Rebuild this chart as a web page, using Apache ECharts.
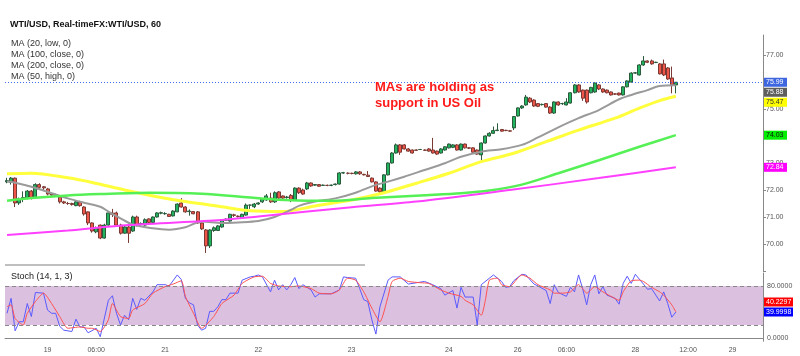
<!DOCTYPE html>
<html><head><meta charset="utf-8">
<script src="https://cdn.jsdelivr.net/npm/echarts@6/dist/echarts.min.js"></script>
<style>html,body{margin:0;padding:0;background:#fff}#c{width:800px;height:356px}</style>
</head><body><div id="c"></div>
<script>
// ---- data ----
// hourly candles: [open, close, low, high]
const ohlc = [
[72.30,72.35,72.25,72.45],[72.28,72.44,72.20,72.48],[72.44,71.52,71.37,72.46],[71.52,71.67,71.45,71.72],[71.65,71.72,71.55,71.95],
[71.70,71.96,71.65,72.00],[71.96,71.71,71.65,72.00],[71.71,72.20,71.68,72.25],[72.20,72.10,72.05,72.25],[72.12,72.08,72.00,72.15],
[72.04,71.85,71.80,72.08],[71.85,71.81,71.78,71.88],[71.80,71.82,71.76,71.86],[71.75,71.56,71.50,71.78],[71.56,71.52,71.48,71.60],
[71.50,71.50,71.45,71.56],[71.50,71.46,71.42,71.53],[71.42,71.56,71.40,71.60],[71.56,71.42,71.38,71.60],[71.37,71.11,71.05,71.40],
[71.19,70.78,70.70,71.20],[70.78,70.48,70.42,70.80],[70.45,70.60,70.40,70.65],[70.70,70.22,70.18,70.72],[70.22,70.70,70.20,70.75],
[70.70,71.15,70.68,71.20],[71.15,71.10,71.00,71.30],[71.15,70.70,70.65,71.20],[70.70,70.40,70.35,70.75],[70.40,70.63,70.38,70.68],
[70.63,70.40,70.04,70.66],[70.48,71.00,70.45,71.05],[71.00,70.70,70.65,71.05],[70.72,70.76,70.68,70.80],[70.70,70.90,70.68,70.95],
[70.93,70.80,70.75,70.95],[70.80,71.00,70.78,71.02],[71.00,71.15,70.98,71.18],[71.14,71.16,71.10,71.20],[71.12,71.13,71.08,71.18],
[71.10,71.02,71.00,71.12],[71.04,71.22,71.02,71.25],[71.19,71.48,71.18,71.50],[71.52,71.37,71.35,71.70],[71.37,71.19,71.16,71.40],
[71.20,71.22,71.05,71.28],[71.20,71.12,71.10,71.22],[71.19,70.78,70.75,71.22],[70.78,70.56,70.52,70.80],[70.52,69.93,69.67,70.55],
[69.93,70.52,69.85,70.55],[70.50,70.60,70.45,70.65],[70.50,70.67,70.48,70.70],[70.63,70.89,70.60,70.92],[70.88,70.92,70.85,70.95],
[70.85,71.10,70.83,71.12],[71.08,71.06,71.00,71.12],[71.03,71.02,70.98,71.06],[70.96,71.10,70.94,71.12],[71.07,71.44,71.05,71.50],
[71.44,71.44,71.30,71.46],[71.38,71.48,71.33,71.52],[71.48,71.52,71.45,71.55],[71.56,71.67,71.52,71.70],[71.63,71.78,71.60,71.85],
[71.70,71.56,71.52,71.90],[71.56,71.90,71.52,71.95],[71.93,71.70,71.65,71.96],[71.78,71.70,71.66,71.80],[71.72,71.74,71.68,71.78],
[71.80,71.63,71.55,71.85],[71.63,72.07,71.60,72.10],[72.07,71.90,71.85,72.10],[72.00,71.85,71.82,72.05],[72.04,72.26,72.00,72.30],
[72.26,72.15,72.12,72.28],[72.18,72.20,72.15,72.22],[72.20,72.14,72.12,72.22],[72.17,72.18,72.15,72.20],[72.17,72.17,72.14,72.20],
[72.17,72.18,72.14,72.20],[72.20,72.22,72.17,72.24],[72.22,72.63,72.20,72.66],[72.63,72.64,72.60,72.67],[72.62,72.62,72.58,72.65],
[72.62,72.61,72.58,72.64],[72.60,72.67,72.57,72.70],[72.67,72.60,72.56,72.70],[72.58,72.56,72.54,72.60],[72.55,72.50,72.48,72.70],
[72.44,72.30,72.28,72.46],[72.30,71.96,71.94,72.32],[72.07,71.93,71.88,72.10],[71.93,72.56,71.90,72.58],[72.56,73.00,72.54,73.02],
[73.00,73.37,72.98,73.40],[73.37,73.67,73.35,73.72],[73.67,73.40,73.30,73.70],[73.67,73.52,73.50,73.70],[73.52,73.44,73.42,73.55],
[73.48,73.37,73.35,73.50],[73.48,73.47,73.45,73.50],[73.50,73.50,73.48,73.52],[73.48,73.47,73.45,73.50],[73.52,73.44,73.42,73.55],
[73.48,73.37,73.35,73.93],[73.44,73.33,73.30,73.46],[73.37,73.52,73.35,73.55],[73.48,73.60,73.46,73.62],[73.56,73.70,73.54,73.72],
[73.58,73.67,73.55,73.70],[73.67,73.48,73.46,73.70],[73.48,73.70,73.46,73.72],[73.70,73.56,73.54,73.72],[73.56,73.55,73.52,73.58],
[73.56,73.40,73.38,73.58],[73.48,73.33,73.30,73.50],[73.30,73.74,73.02,73.76],[73.74,74.00,73.72,74.02],[74.00,74.10,73.98,74.14],
[74.10,74.20,74.08,74.35],[74.20,74.22,74.18,74.47],[74.24,74.18,74.16,74.26],[74.21,74.20,74.18,74.23],[74.19,74.18,74.16,74.21],
[74.30,74.72,74.22,74.74],[74.74,75.04,74.72,75.06],[75.04,75.11,75.00,75.14],[75.15,75.44,75.12,75.52],[75.40,75.26,75.22,75.44],
[75.33,75.11,75.08,75.36],[75.20,75.10,75.07,75.22],[75.16,75.17,75.13,75.20],[75.20,75.07,75.05,75.22],[75.07,74.85,74.82,75.10],
[74.85,75.26,74.82,75.28],[75.26,75.15,75.12,75.28],[75.20,75.20,75.15,75.23],[75.15,75.26,75.13,75.40],[75.22,75.60,75.20,75.62],
[75.60,75.89,75.58,75.92],[75.89,75.63,75.60,75.92],[75.70,75.40,75.30,75.72],[75.70,75.26,75.20,75.72],[75.60,75.80,75.58,75.82],
[75.63,75.96,75.60,75.98],[75.89,75.74,75.70,75.92],[75.74,75.63,75.60,75.76],[75.70,75.60,75.58,75.72],[75.63,75.52,75.50,75.65],
[75.56,75.55,75.52,75.58],[75.59,75.52,75.50,75.60],[75.52,75.82,75.50,75.84],[75.82,76.04,75.80,76.06],[76.00,76.33,75.98,76.36],
[76.33,76.34,76.30,76.37],[76.26,76.63,76.24,76.66],[76.63,76.78,76.60,76.96],[76.78,76.73,76.70,76.80],[76.78,76.67,76.64,76.83],
[76.72,76.73,76.70,76.75],[76.67,76.30,76.28,76.70],[76.67,76.26,76.22,76.83],[76.52,76.11,76.08,76.55],[76.15,75.89,75.58,76.57],
[75.89,75.99,75.58,76.00]
];
const lastPrice = 75.99;

// moving averages, read at sampled candles: [candle index, value]
const ma20Low = [[0,72.32],[2,72.27],[6,72.12],[11,71.88],[15,71.69],[19,71.53],[23,71.38],[25,71.2],[28,70.95],[31,70.72],[36,70.58],[40,70.53],[44,70.62],[48,70.83],[53,70.78],[57,70.8],[62,70.85],[66,71.0],[70,71.26],[72,71.41],[76,71.57],[81,71.69],[86,71.9],[91,72.19],[94,72.31],[98,72.49],[103,72.74],[108,72.99],[112,73.23],[117,73.42],[122,73.51],[127,73.67],[131,73.95],[136,74.32],[141,74.66],[146,74.96],[151,75.36],[154,75.52],[158,75.7],[161,75.85],[165,75.88]];
const ma50High = [[0,72.6],[6,72.62],[15,72.45],[21,72.28],[29,72.0],[36,71.78],[44,71.57],[53,71.38],[60,71.23],[68,71.2],[76,71.41],[85,71.63],[93,71.9],[101,72.25],[109,72.62],[117,73.05],[125,73.36],[133,73.79],[141,74.22],[150,74.66],[156,75.03],[161,75.31],[165,75.47]];
const ma100Close = [[0,71.6],[6,71.7],[15,71.8],[23,71.85],[35,71.9],[48,71.86],[60,71.72],[70,71.62],[80,71.6],[90,71.7],[102,71.8],[112,71.88],[119,71.98],[127,72.2],[136,72.62],[146,73.1],[156,73.6],[165,74.03]];
const ma200Close = [[0,70.33],[15,70.5],[30,70.7],[53,70.89],[62,71.02],[85,71.36],[101,71.57],[124,72.0],[146,72.44],[165,72.84]];

// stochastic (14,1,3): [candle index, value]
const stochK = [[0,38],[1,61],[2,11],[3,25],[4,25],[5,53],[6,33],[7,70],[9,69],[10,43],[11,38],[12,38],[13,18],[14,12],[16,10],[17,29],[18,17],[19,17],[20,8],[22,15],[23,2],[25,58],[26,65],[27,38],[28,20],[29,35],[30,28],[31,61],[32,44],[33,61],[34,58],[36,71],[37,82],[39,82],[40,80],[42,97],[43,90],[44,61],[45,54],[46,51],[47,20],[48,12],[49,15],[50,41],[51,41],[52,48],[53,59],[54,59],[55,69],[56,69],[57,69],[58,89],[60,94],[61,95],[62,97],[63,94],[65,71],[66,89],[67,74],[68,82],[69,74],[70,82],[71,93],[72,76],[73,82],[75,74],[76,63],[77,68],[78,68],[80,68],[82,74],[83,94],[84,93],[86,92],[87,76],[88,59],[89,56],[90,28],[91,6],[92,48],[94,89],[95,94],[96,94],[97,94],[99,83],[101,85],[103,87],[105,82],[107,76],[108,66],[110,73],[111,46],[112,78],[113,63],[115,63],[116,20],[117,82],[119,92],[120,97],[122,87],[123,78],[124,79],[125,88],[127,98],[128,97],[130,83],[131,80],[133,73],[134,53],[135,82],[136,70],[138,64],[139,78],[140,71],[141,97],[142,76],[143,51],[144,82],[145,97],[146,68],[147,79],[148,66],[150,61],[151,52],[152,84],[153,95],[154,84],[155,98],[157,83],[158,75],[159,76],[161,57],[162,71],[163,53],[164,32],[165,39.9998]];
const stochD = [[0,48],[1,51],[2,30],[4,20],[5,38],[7,56],[9,69],[11,53],[13,33],[15,15],[18,17],[20,15],[21,15],[23,10],[25,28],[26,53],[28,33],[30,30],[31,43],[34,53],[36,69],[39,79],[41,83],[43,88],[44,64],[46,38],[48,15],[51,33],[53,53],[56,66],[58,84],[61,94],[63,95],[65,84],[67,80],[70,79],[72,80],[75,76],[77,69],[80,68],[82,74],[84,92],[86,89],[88,71],[90,46],[92,25],[94,64],[95,87],[97,92],[99,87],[102,85],[104,84],[107,74],[109,69],[112,64],[113,58],[115,51],[117,35],[118,58],[119,89],[121,92],[122,82],[124,79],[126,92],[127,97],[129,92],[131,82],[134,74],[135,69],[137,69],[139,71],[141,82],[142,76],[143,69],[145,79],[147,71],[149,64],[151,58],[152,71],[154,88],[156,89],[157,87],[159,78],[161,71],[162,66],[164,51],[165,40.2297]];

// time axis: slots (candles + empty future), tick labels at slots
const slotCount = 187;
const tickIdx  = [10, 22, 39, 62, 85, 109, 126, 138, 155, 168, 179];
const tickText = ['19','06:00','21','22','23','24','26','06:00','28','12:00','29'];
const maNames = ['MA (20, low, 0)','MA (100, close, 0)','MA (200, close, 0)','MA (50, high, 0)'];

// ---- chart ----
const FONT = 'Liberation Sans, Arial, sans-serif';
const slots = Array.from({length: slotCount}, (_, i) => 's' + i);
const tickMap = {}; tickIdx.forEach((k, j) => tickMap[k] = tickText[j]);
const last = a => a[a.length - 1][1];

const chart = echarts.init(document.getElementById('c'));
const lineS = (name, data, color, width, y) => ({
  name, type: 'line', xAxisIndex: y, yAxisIndex: y, data, smooth: 0.3, symbol: 'none',
  lineStyle: { color, width }, silent: true, z: 4
});
chart.setOption({
  animation: false,
  backgroundColor: '#fff',
  title: [
    { text: 'WTI/USD, Real-timeFX:WTI/USD, 60', left: 10, top: 19, padding: 0,
      textStyle: { fontSize: 9, fontWeight: 'bold', color: '#111', fontFamily: FONT, lineHeight: 11 } },
    { text: maNames.join('\n'), left: 11, top: 38, padding: 0,
      textStyle: { fontSize: 9, fontWeight: 'normal', color: '#333', fontFamily: FONT, lineHeight: 11 } },
    { text: 'Stoch (14, 1, 3)', left: 11, top: 271, padding: 0,
      textStyle: { fontSize: 9, fontWeight: 'normal', color: '#222', fontFamily: FONT, lineHeight: 11 } },
    { text: 'MAs are holding as\nsupport in US Oil', left: 375, top: 79, padding: 0,
      textStyle: { fontSize: 13, fontWeight: 'bold', color: '#ff1a1a', fontFamily: FONT, lineHeight: 16 } }
  ],
  grid: [
    { left: 5, right: 37, top: 35, height: 236 },
    { left: 5, right: 37, top: 273, height: 68.25 }
  ],
  xAxis: [
    { type: 'category', gridIndex: 0, data: slots, show: false, boundaryGap: true },
    { type: 'category', gridIndex: 1, data: slots, boundaryGap: true,
      axisLine: { lineStyle: { color: '#888' } }, axisTick: { show: false },
      axisLabel: { interval: 0, fontSize: 7, color: '#555', fontFamily: FONT, margin: 5,
        formatter: (v, i) => tickMap[i] || '' } }
  ],
  yAxis: [
    { type: 'value', gridIndex: 0, position: 'right', min: 69, max: 77.74, interval: 1,
      splitLine: { show: false },
      axisLine: { show: true, lineStyle: { color: '#888' } },
      axisTick: { show: true, length: 3, lineStyle: { color: '#888' } },
      axisLabel: { fontSize: 7, color: '#555', fontFamily: FONT, margin: 3, showMaxLabel: false,
        formatter: v => (Math.abs(v - Math.round(v)) < 1e-6 && v > 69.5 && v < 77.5) ? v.toFixed(2) : '' } },
    { type: 'value', gridIndex: 1, position: 'right', min: -5, max: 100, interval: 5,
      splitLine: { show: false },
      axisLine: { show: true, lineStyle: { color: '#888' } },
      axisTick: { show: false },
      axisLabel: { fontSize: 7, color: '#555', fontFamily: FONT, margin: 4,
        formatter: v => (v === 0 || v === 80) ? v.toFixed(4) : '' } }
  ],
  series: [
    { type: 'candlestick', xAxisIndex: 0, yAxisIndex: 0, data: ohlc, barWidth: 3.5, z: 3,
      itemStyle: { color: '#22b35e', color0: '#ef5548', borderColor: '#2b5a3c', borderColor0: '#7a3a33', borderWidth: 1 },
      markLine: { silent: true, symbol: 'none', label: { show: false },
        lineStyle: { color: '#2f5ff0', type: [1, 2], width: 1, opacity: 0.9 }, data: [{ yAxis: lastPrice }] } },
    lineS(maNames[3], ma50High, '#ffff3c', 3, 0),
    lineS(maNames[0], ma20Low, '#9a9a9a', 2, 0),
    lineS(maNames[1], ma100Close, '#55f055', 2.5, 0),
    lineS(maNames[2], ma200Close, '#ff40ff', 2, 0),
    { type: 'line', xAxisIndex: 1, yAxisIndex: 1, data: stochK, symbol: 'none', silent: true,
      lineStyle: { color: '#5a5aff', width: 1 },
      markArea: { silent: true, itemStyle: { color: '#dcc0df' }, data: [[{ yAxis: 20 }, { yAxis: 80 }]] },
      markLine: { silent: true, symbol: 'none', label: { show: false },
        lineStyle: { color: '#888', type: [4, 3], width: 1 }, data: [{ yAxis: 20 }, { yAxis: 80 }] } },
    { type: 'line', xAxisIndex: 1, yAxisIndex: 1, data: stochD, symbol: 'none', silent: true, smooth: 0.2,
      lineStyle: { color: '#ff5050', width: 1 } }
  ]
});

// value tags on the right axis, placed through the axis scale
function placeTags(list, axis) {
  const placed = [], H = 10;
  list.forEach(t => {
    let y = chart.convertToPixel({ yAxisIndex: axis }, t.v);
    for (let g = 0; g < 20; g++) {
      const hit = placed.find(p => Math.abs(p.y - y) < H - 0.01);
      if (!hit) break;
      y = t.v >= hit.v ? hit.y - H : hit.y + H;
    }
    t.y = y; placed.push(t);
  });
  return placed;
}
const gx = 800 - 37;
const tags = placeTags([
  { v: lastPrice, bg: '#3d66e0', fg: '#fff', txt: lastPrice.toFixed(2) },
  { v: last(ma20Low), bg: '#5e5e5e', fg: '#fff', txt: last(ma20Low).toFixed(2) },
  { v: last(ma50High), bg: '#ffff00', fg: '#333', txt: last(ma50High).toFixed(2) },
  { v: last(ma100Close), bg: '#00ee00', fg: '#111', txt: last(ma100Close).toFixed(2) },
  { v: last(ma200Close), bg: '#ff00ff', fg: '#fff', txt: last(ma200Close).toFixed(2) }
], 0).concat(placeTags([
  { v: last(stochK), bg: '#0000ff', fg: '#fff', txt: last(stochK).toFixed(4) },
  { v: last(stochD), bg: '#ff0000', fg: '#fff', txt: last(stochD).toFixed(4) }
], 1));
const graphic = [];
tags.forEach(t => {
  const w = t.txt.length > 5 ? 29 : 23;
  graphic.push({ type: 'rect', z: 100, shape: { x: gx + 1, y: t.y - 4.5, width: w, height: 9 }, style: { fill: t.bg } });
  graphic.push({ type: 'text', z: 101, style: { text: t.txt, x: gx + 3, y: t.y, fill: t.fg,
    font: '7px ' + FONT, verticalAlign: 'middle', textAlign: 'left' } });
});
graphic.push({ type: 'line', z: 5, shape: { x1: 5, y1: 265, x2: 365, y2: 265 }, style: { stroke: '#aaa', lineWidth: 1.5 } });
chart.setOption({ graphic });
</script>
</body></html>
